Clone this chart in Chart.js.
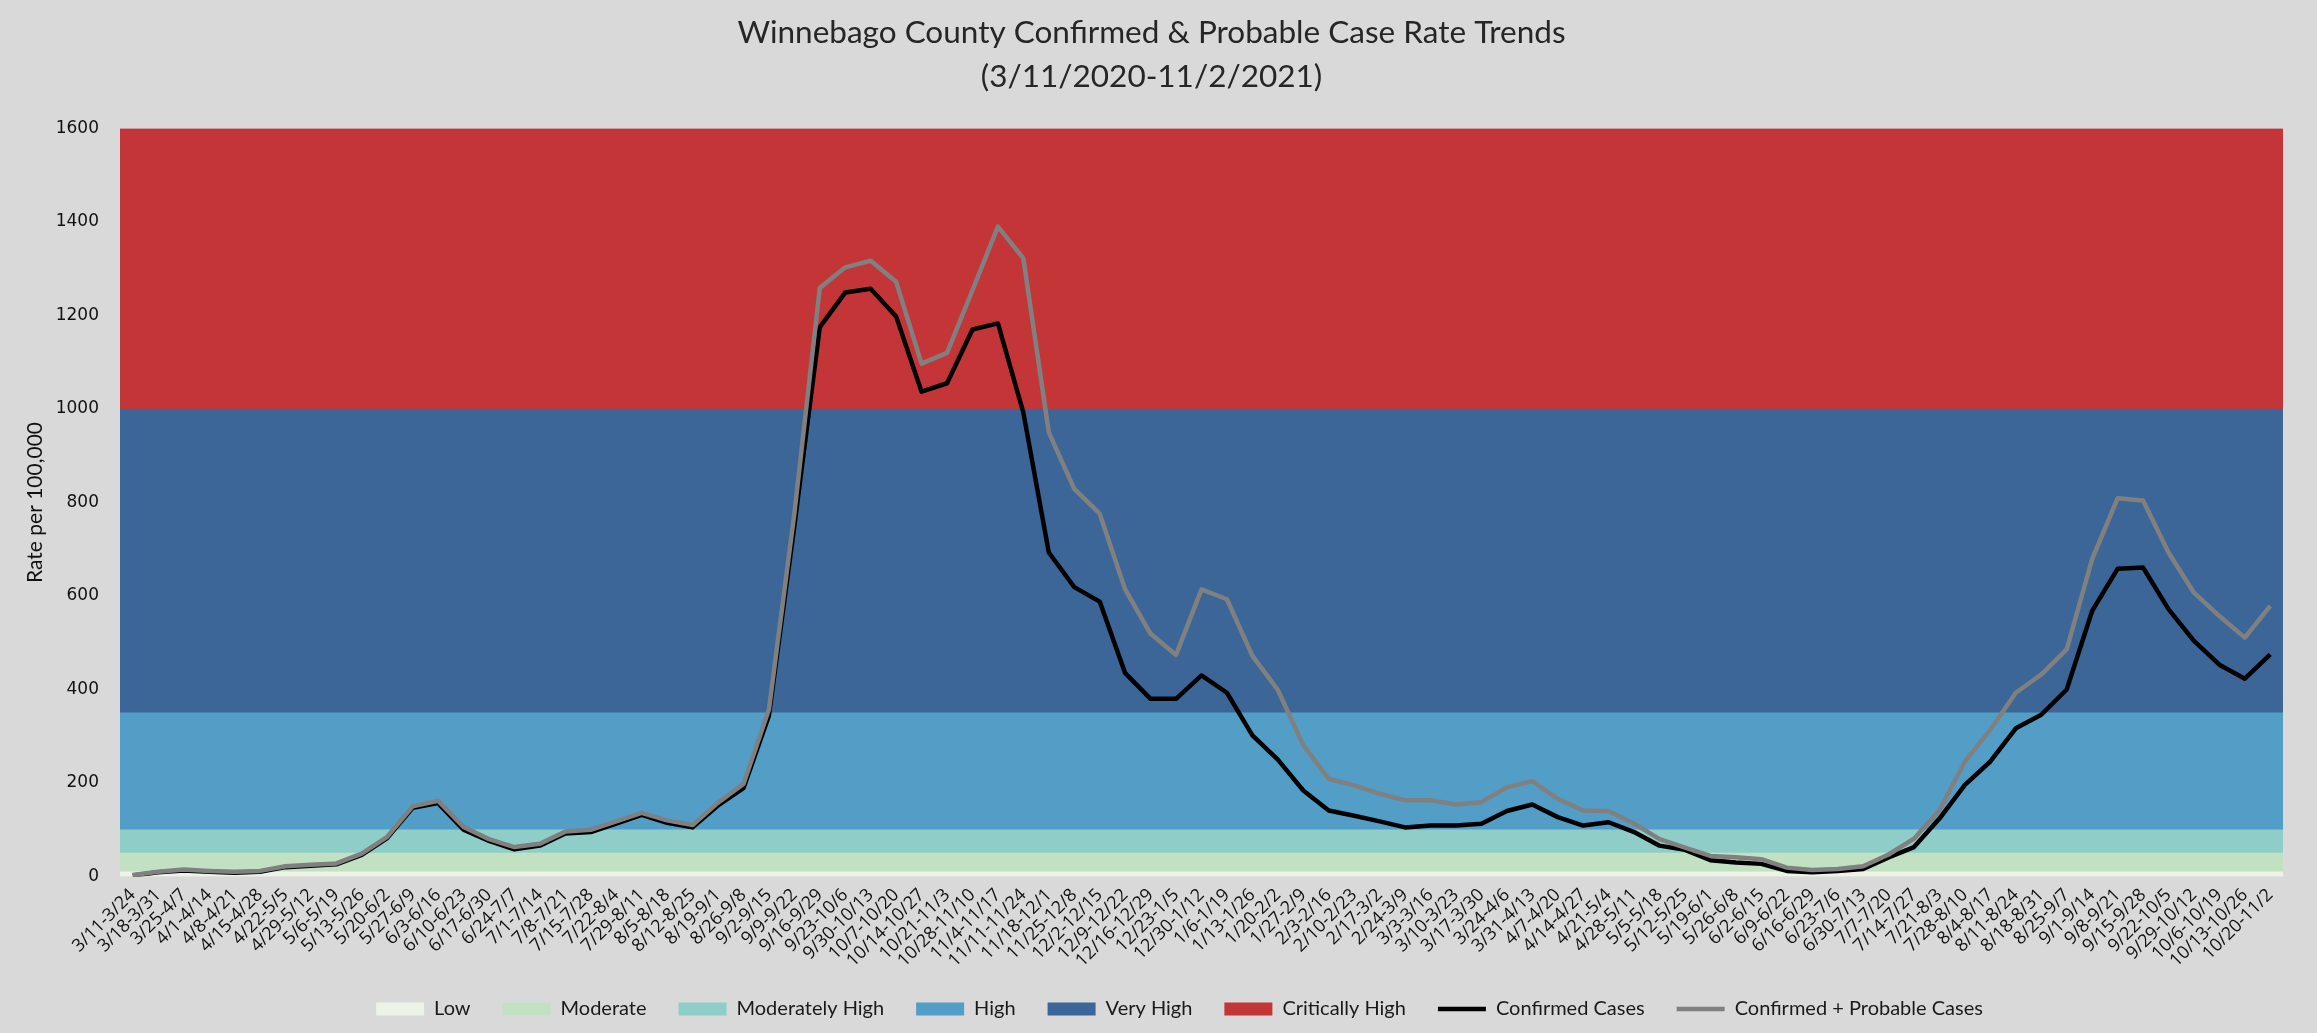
<!DOCTYPE html>
<html>
<head>
<meta charset="utf-8">
<script src="https://cdn.jsdelivr.net/npm/chart.js@4"></script>
<style>
html,body{margin:0;padding:0;background:#d9d9d9;}
#wrap{width:2317px;height:1033px;}
</style>
</head>
<body>
<div id="wrap"><canvas id="c" width="2317" height="1033"></canvas></div>
<script>
const weeks = ["3/11-3/24","3/18-3/31","3/25-4/7","4/1-4/14","4/8-4/21","4/15-4/28","4/22-5/5","4/29-5/12","5/6-5/19","5/13-5/26","5/20-6/2","5/27-6/9","6/3-6/16","6/10-6/23","6/17-6/30","6/24-7/7","7/1-7/14","7/8-7/21","7/15-7/28","7/22-8/4","7/29-8/11","8/5-8/18","8/12-8/25","8/19-9/1","8/26-9/8","9/2-9/15","9/9-9/22","9/16-9/29","9/23-10/6","9/30-10/13","10/7-10/20","10/14-10/27","10/21-11/3","10/28-11/10","11/4-11/17","11/11-11/24","11/18-12/1","11/25-12/8","12/2-12/15","12/9-12/22","12/16-12/29","12/23-1/5","12/30-1/12","1/6-1/19","1/13-1/26","1/20-2/2","1/27-2/9","2/3-2/16","2/10-2/23","2/17-3/2","2/24-3/9","3/3-3/16","3/10-3/23","3/17-3/30","3/24-4/6","3/31-4/13","4/7-4/20","4/14-4/27","4/21-5/4","4/28-5/11","5/5-5/18","5/12-5/25","5/19-6/1","5/26-6/8","6/2-6/15","6/9-6/22","6/16-6/29","6/23-7/6","6/30-7/13","7/7-7/20","7/14-7/27","7/21-8/3","7/28-8/10","8/4-8/17","8/11-8/24","8/18-8/31","8/25-9/7","9/1-9/14","9/8-9/21","9/15-9/28","9/22-10/5","9/29-10/12","10/6-10/19","10/13-10/26","10/20-11/2"];

const confirmed = [2,9,13,10,8,10,20,23,26,46,82,147,157,100,76,58,66,92,95,113,132,115,105,152,189,344,750,1175,1249,1257,1198,1037,1055,1170,1183,992,693,619,588,435,380,380,430,393,302,250,184,141,130,118,105,109,109,113,140,154,127,109,116,95,66,57,35,30,27,12,9,12,16,41,63,124,196,246,317,346,400,568,658,661,572,504,453,423,475];

const confirmedProbable = [3,10,15,12,10,12,22,25,28,49,85,150,162,106,80,63,70,96,100,118,136,120,110,158,198,357,776,1259,1303,1317,1272,1097,1120,1254,1390,1322,950,829,776,614,519,474,614,593,472,399,281,209,195,177,163,163,154,159,191,204,166,141,140,113,80,62,44,41,37,19,14,16,22,47,81,142,246,314,393,432,486,679,809,804,693,607,557,511,579];

const bandNames = ["Low","Moderate","Moderately High","High","Very High","Critically High"];
const bandLower = [0,10,50,100,350,1000];
const bandUpper = [10,50,100,350,1000,1600];
const bandColors = ["#edf3e7","#c2e1c3","#8fcec8","#529ec6","#3c6697","#c43538"];

const yTicks = [0,200,400,600,800,1000,1200,1400,1600];

const titleLines = ["Winnebago County Confirmed & Probable Case Rate Trends","(3/11/2020-11/2/2021)"];

const bandDatasets = bandNames.map((n,i)=>({
  type:'bar', label:n, xAxisID:'x2', yAxisID:'y',
  data:[[bandLower[i], bandUpper[i]]],
  backgroundColor:bandColors[i], borderColor:bandColors[i], borderWidth:0,
  barPercentage:1, categoryPercentage:1, grouped:false, order:5,
  pointStyle:'rect'
}));

const lineDatasets = [
  {type:'line', label:'Confirmed Cases', data:confirmed, xAxisID:'x', yAxisID:'y',
   borderColor:'#000000', backgroundColor:'#000000', borderWidth:4.5, pointRadius:0,
   tension:0, order:2, pointStyle:'line', borderJoinStyle:'round'},
  {type:'line', label:'Confirmed + Probable Cases', data:confirmedProbable, xAxisID:'x', yAxisID:'y',
   borderColor:'#808080', backgroundColor:'#808080', borderWidth:4.5, pointRadius:0,
   tension:0, order:1, pointStyle:'line', borderJoinStyle:'round'}
];

const bgPlugin = {
  id:'bg',
  beforeDraw(chart){
    const ctx = chart.ctx;
    ctx.save();
    ctx.fillStyle = '#d9d9d9';
    ctx.fillRect(0,0,chart.width,chart.height);
    ctx.restore();
  }
};

const shiftPlugin = {
  id:'shift',
  afterLayout(chart){
    const lg = chart.legend;
    if (lg) { lg.left += 38; lg.right += 38; }
    const t = chart.titleBlock;
    if (t) { t.left += 10; t.right += 10; }
  }
};

new Chart(document.getElementById('c'), {
  type:'bar',
  data:{ labels:weeks, datasets:[...bandDatasets, ...lineDatasets] },
  plugins:[bgPlugin, shiftPlugin],
  options:{
    responsive:false, animation:false, devicePixelRatio:1,
    layout:{padding:{top:10,left:0,right:34,bottom:4}},
    plugins:{
      tooltip:{enabled:false},
      title:{display:true, text:titleLines, color:'#262626',
        font:{family:'Lato', size:31.5, weight:'normal', lineHeight:1.42},
        padding:{top:0,bottom:29}},
      legend:{position:'bottom',
        labels:{usePointStyle:true, pointStyleWidth:48, boxHeight:13,
          padding:32, color:'#1a1a1a',
          font:{family:'Lato', size:20},
          sort:(a,b)=>a.datasetIndex-b.datasetIndex}}
    },
    scales:{
      x:{type:'category', offset:true,
        grid:{display:false, drawTicks:false}, border:{display:false},
        ticks:{autoSkip:false, maxRotation:45, minRotation:45, padding:8,
          color:'#111', font:{family:'Open Sans', size:18}},
        afterFit:(s)=>{s.height=90.5;}},
      x2:{type:'category', labels:['band'], offset:true, display:false,
        grid:{offset:true}},
      y:{min:0, max:1600, beginAtZero:true,
        grid:{display:false, drawTicks:false}, border:{display:false},
        ticks:{stepSize:200, padding:21, color:'#111',
          font:{family:'DejaVu Sans', size:17},
          callback:(v)=> yTicks.includes(v) ? String(v) : ''},
        title:{display:true, text:'Rate per 100,000', color:'#111',
          font:{family:'Lato', size:21}, padding:{top:23,bottom:0}},
        afterFit:(s)=>{s.width=120;}}
    }
  }
});
</script>
</body>
</html>
